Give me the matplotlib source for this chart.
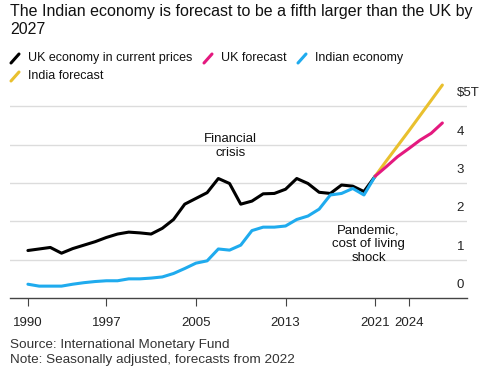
import numpy as np
import matplotlib.pyplot as plt
import matplotlib.transforms as mtransforms
from matplotlib.lines import Line2D

plt.rcParams['font.family'] = ['Liberation Sans', 'DejaVu Sans']

# UK GDP in current prices, $ trillions
uk_years = list(range(1990, 2022))
uk_values = [1.24, 1.28, 1.32, 1.17, 1.29, 1.38, 1.47, 1.58, 1.67, 1.72, 1.70, 1.67,
             1.82, 2.05, 2.45, 2.60, 2.75, 3.12, 2.99, 2.45, 2.53, 2.72, 2.73, 2.84,
             3.12, 2.99, 2.76, 2.73, 2.95, 2.92, 2.78, 3.18]

india_years = list(range(1990, 2022))
india_values = [0.36, 0.31, 0.31, 0.31, 0.36, 0.40, 0.43, 0.45, 0.45, 0.50, 0.50, 0.52,
                0.55, 0.64, 0.77, 0.91, 0.97, 1.28, 1.25, 1.38, 1.76, 1.85, 1.85, 1.88,
                2.05, 2.14, 2.32, 2.69, 2.73, 2.86, 2.69, 3.18]

fc_years = list(range(2021, 2028))
uk_forecast = [3.18, 3.43, 3.69, 3.90, 4.12, 4.30, 4.57]
india_forecast = [3.18, 3.58, 3.97, 4.36, 4.76, 5.16, 5.56]

x_ticks = [1990, 1997, 2005, 2013, 2021, 2024]
y_ticks = [0, 1, 2, 3, 4, 5]
y_labels = ['0', '1', '2', '3', '4', '$5T']

BLACK = '#000000'
PINK = '#e4197f'
BLUE = '#1fabee'
YELLOW = '#e9c02e'

fig = plt.figure(figsize=(4.95, 3.78), dpi=100)
ax = fig.add_axes([10 / 495, 1 - 298 / 378, 457 / 495, (298 - 81.6) / 378])

for y in y_ticks[1:]:
    ax.axhline(y, color='#dcdcdc', lw=1, zorder=0)

ax.plot(india_years, india_values, color=BLUE, lw=2.2, solid_capstyle='round', zorder=3)
ax.plot(uk_years, uk_values, color=BLACK, lw=2.2, solid_capstyle='round', zorder=2)
ax.plot(fc_years, india_forecast, color=YELLOW, lw=2.2, solid_capstyle='round', zorder=3)
ax.plot(fc_years, uk_forecast, color=PINK, lw=2.2, solid_capstyle='round', zorder=4)

ax.set_xlim(1988.4, 2029.2)
ax.set_ylim(0, 5.65)
for s in ['top', 'right', 'left']:
    ax.spines[s].set_visible(False)
ax.spines['bottom'].set_color('#444444')
ax.spines['bottom'].set_linewidth(1)
ax.set_xticks(x_ticks)
ax.set_xticklabels([str(t) for t in x_ticks], fontsize=9.5, color='#222222')
ax.tick_params(axis='x', length=6, width=0.8, color='#444444', pad=8)
ax.set_yticks([])

# right-hand value labels, sitting just above their gridlines
off = mtransforms.offset_copy(ax.transData, fig=fig, x=0, y=13, units='dots')
trans = mtransforms.blended_transform_factory(ax.transAxes, off)
for y, lab in zip(y_ticks, y_labels):
    ax.text(0.977, y, lab, transform=trans,
            ha='left', va='center', fontsize=9.5, color='#222222')

ax.text(2008.1, 3.97, 'Financial\ncrisis', ha='center', va='center', fontsize=9.5,
        color='#111111', linespacing=1.25)
ax.text(2020.4, 1.41, 'Pandemic,\ncost of living\nshock', ha='center', va='center',
        fontsize=9.5, color='#111111', linespacing=1.2)

fig.text(10 / 495, 1 - 4 / 378,
         'The Indian economy is forecast to be a fifth larger than the UK by\n2027',
         ha='left', va='top', fontsize=11.5, color='#111111', linespacing=1.25)

# legend with slash markers
legend_items = [('UK economy in current prices', BLACK, 10, 58),
                ('UK forecast', PINK, 203, 58),
                ('Indian economy', BLUE, 297, 58),
                ('India forecast', YELLOW, 10, 76)]
for label, col, px, py in legend_items:
    fig.add_artist(Line2D([(px + 1) / 495, (px + 9) / 495],
                          [1 - (py + 5) / 378, 1 - (py - 4) / 378],
                          color=col, lw=2.2, solid_capstyle='round'))
    fig.text((px + 18) / 495, 1 - py / 378, label, ha='left', va='center',
             fontsize=9, color='#111111')

fig.text(10 / 495, 1 - 345 / 378, 'Source: International Monetary Fund',
         ha='left', va='center', fontsize=9.7, color='#333333')
fig.text(10 / 495, 1 - 360 / 378, 'Note: Seasonally adjusted, forecasts from 2022',
         ha='left', va='center', fontsize=9.7, color='#333333')

fig.savefig('out.png', dpi=100)
